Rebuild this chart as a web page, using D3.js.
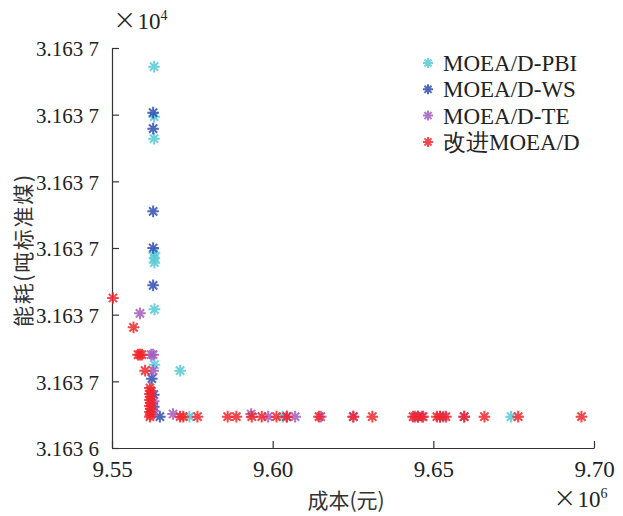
<!DOCTYPE html>
<html><head><meta charset="utf-8">
<script src="https://cdn.jsdelivr.net/npm/d3@7"></script>
<style>body{margin:0;background:#fff}</style>
</head><body>
<script>
const xTicks = [9.55, 9.60, 9.65, 9.70];
const xTickLabels = ["9.55", "9.60", "9.65", "9.70"];
const yTicks = [31636.4, 31636.5, 31636.6, 31636.7, 31636.8, 31636.9, 31637.0];
const yTickLabels = ["3.163 6", "3.163 7", "3.163 7", "3.163 7", "3.163 7", "3.163 7", "3.163 7"];
const seriesNames = ["MOEA/D-PBI", "MOEA/D-WS", "MOEA/D-TE", "改进MOEA/D"];

const pbi = [[9.5631,31636.972],[9.5631,31636.897],[9.5631,31636.864],[9.5632,31636.693],[9.5632,31636.685],[9.5632,31636.678],[9.5632,31636.608],[9.5632,31636.525],[9.5712,31636.516],[9.5741,31636.447],[9.6031,31636.447],[9.6742,31636.447]];
const ws = [[9.5628,31636.903],[9.5628,31636.879],[9.5628,31636.755],[9.5628,31636.700],[9.5628,31636.644],[9.5624,31636.504],[9.5649,31636.447],[9.5630,31636.480],[9.5630,31636.462]];
const te = [[9.5587,31636.602],[9.5622,31636.540],[9.5628,31636.540],[9.5628,31636.516],[9.5630,31636.470],[9.5630,31636.455],[9.5690,31636.451],[9.5933,31636.451],[9.5986,31636.447],[9.6044,31636.447],[9.6070,31636.447],[9.6150,31636.447],[9.6251,31636.447],[9.6443,31636.447],[9.6452,31636.447],[9.6464,31636.447],[9.6521,31636.447],[9.6531,31636.447],[9.6596,31636.447]];
const improved = [[9.5503,31636.625],[9.5567,31636.581],[9.5581,31636.540],[9.5587,31636.540],[9.5593,31636.540],[9.5603,31636.516],
 [9.5618,31636.490],[9.5620,31636.486],[9.5618,31636.481],[9.5620,31636.477],[9.5618,31636.472],[9.5620,31636.468],[9.5618,31636.463],[9.5620,31636.459],[9.5618,31636.454],[9.5620,31636.450],[9.5618,31636.447],
 [9.5712,31636.447],[9.5722,31636.447],[9.5766,31636.447],[9.5860,31636.447],[9.5887,31636.447],[9.5935,31636.447],[9.5966,31636.447],[9.6012,31636.447],[9.6044,31636.447],[9.6144,31636.447],[9.6251,31636.447],[9.6310,31636.447],[9.6437,31636.447],[9.6452,31636.447],[9.6468,31636.447],[9.6511,31636.447],[9.6521,31636.447],[9.6539,31636.447],[9.6596,31636.447],[9.6659,31636.447],[9.6764,31636.447],[9.6961,31636.447]];

const colors = ["#55c9d6", "#2f4db3", "#a45cbd", "#f0262c"];
const allSeries = [pbi, ws, te, improved];

const W = 623, H = 516;
const svg = d3.select("body").append("svg").attr("width", W).attr("height", H)
  .style("background", "#fff");

const x = d3.scaleLinear().domain([9.55, 9.70]).range([112, 594]);
const y = d3.scaleLinear().domain([31636.4, 31637.0]).range([448, 48]);

const axisColor = "#333";
const serif = "'Liberation Serif','Times New Roman',serif";
const cjk = "'Noto Sans CJK SC','Noto Sans',sans-serif";

// y axis
const yAxis = d3.axisLeft(y).tickValues(yTicks).tickSizeInner(-7).tickSizeOuter(0)
  .tickFormat((d, i) => yTickLabels[i]).tickPadding(13);
const gy = svg.append("g").attr("transform", "translate(112,0)").call(yAxis);
gy.select(".domain").attr("stroke", axisColor).attr("stroke-width", 1.2);
gy.selectAll(".tick line").attr("stroke", axisColor).attr("stroke-width", 1.2);
gy.selectAll(".tick text").attr("font-family", serif).attr("font-size", 22).attr("fill", "#222")
  .attr("textLength", 63).attr("lengthAdjust", "spacingAndGlyphs").attr("dy", "0.36em");

// x axis
const xAxis = d3.axisBottom(x).tickValues(xTicks).tickSizeInner(-7).tickSizeOuter(0)
  .tickFormat((d, i) => xTickLabels[i]).tickPadding(13);
const gx = svg.append("g").attr("transform", "translate(0,448)").call(xAxis);
gx.select(".domain").attr("stroke", axisColor).attr("stroke-width", 1.2);
gx.selectAll(".tick line").attr("stroke", axisColor).attr("stroke-width", 1.2);
gx.selectAll(".tick text").attr("font-family", serif).attr("font-size", 23).attr("fill", "#222");

// asterisk marker
function asterisk(g, cx, cy, r, color) {
  const d = r * Math.SQRT1_2;
  const p = `M${cx - r},${cy}L${cx + r},${cy}M${cx},${cy - r}L${cx},${cy + r}` +
            `M${cx - d},${cy - d}L${cx + d},${cy + d}M${cx - d},${cy + d}L${cx + d},${cy - d}`;
  g.append("path").attr("d", p).attr("stroke", color).attr("stroke-width", 2)
    .attr("fill", "none").attr("stroke-opacity", 0.85);
}

const plot = svg.append("g");
allSeries.forEach((s, i) => {
  const g = plot.append("g");
  s.forEach(p => asterisk(g, x(p[0]), y(p[1]), 5.8, colors[i]));
});

// legend
const legend = svg.append("g");
seriesNames.forEach((n, i) => {
  const cy = 63 + i * 26.3;
  asterisk(legend, 428, cy, 5, colors[i]);
  legend.append("text").attr("x", 443).attr("y", cy + 8).text(n)
    .attr("font-family", serif).attr("font-size", 23).attr("fill", "#222");
});

// multipliers
function multiplier(xp, yp, exp) {
  const t = svg.append("text").attr("x", xp).attr("y", yp).attr("font-family", serif)
    .attr("font-size", 23).attr("fill", "#222");
  t.append("tspan").text("×").attr("font-size", 28).attr("font-family", "'DejaVu Sans',sans-serif")
    .attr("font-weight", 300);
  t.append("tspan").text("10").attr("dx", 1);
  t.append("tspan").text(exp).attr("font-size", 14).attr("dy", -9);
}
multiplier(113, 29, "4");
multiplier(553, 507, "6");

// axis titles
svg.append("text").attr("x", 346).attr("y", 508).attr("text-anchor", "middle")
  .attr("font-family", cjk).attr("font-size", 21).attr("fill", "#333").text("成本(元)");
svg.append("text").attr("transform", "translate(31,251) rotate(-90)").attr("text-anchor", "middle")
  .attr("font-family", cjk).attr("font-size", 21).attr("fill", "#333")
  .attr("textLength", 152).attr("lengthAdjust", "spacing").text("能耗(吨标准煤)");
</script>
</body></html>
